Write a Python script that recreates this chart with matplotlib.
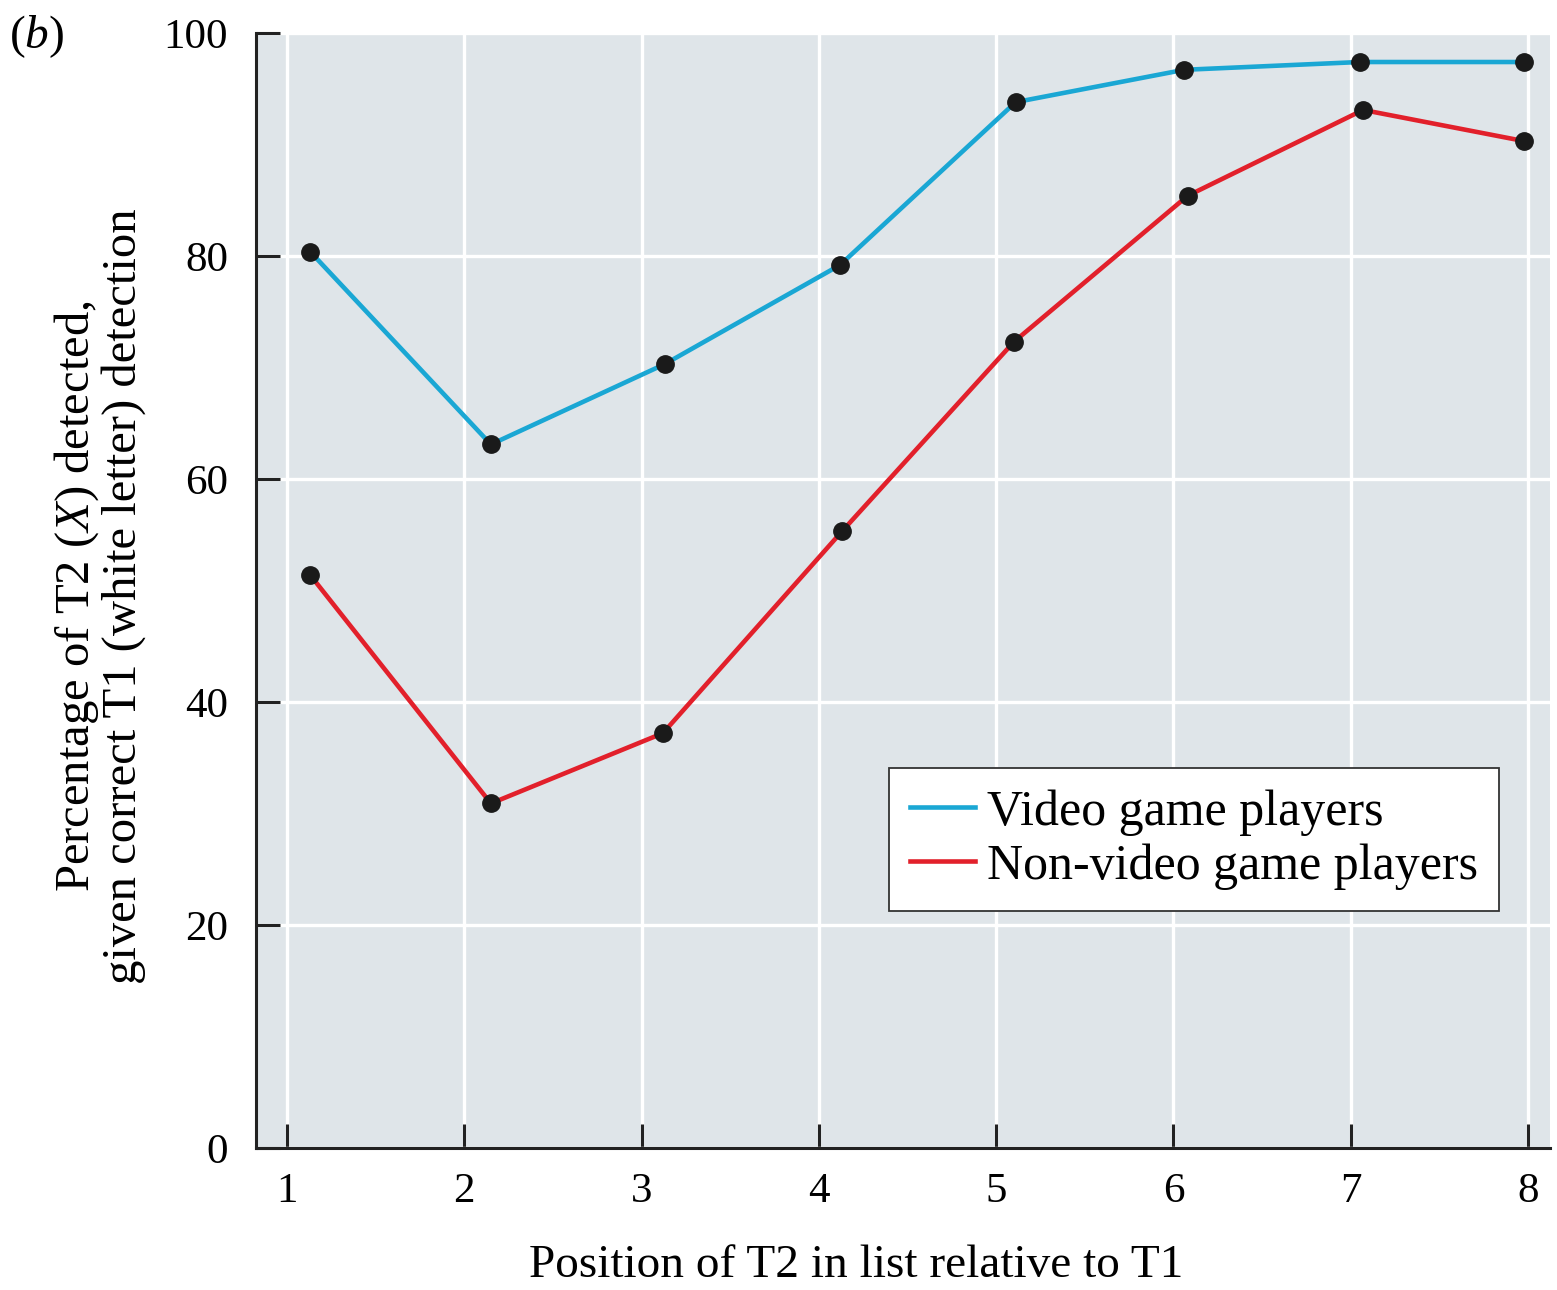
import matplotlib
matplotlib.use("Agg")
import matplotlib.pyplot as plt
from matplotlib.lines import Line2D

# Data: percentage of T2 detected at each lag after T1
positions = [1, 2, 3, 4, 5, 6, 7, 8]
video_x = [1.13, 2.15, 3.13, 4.12, 5.11, 6.06, 7.05, 7.98]
video_pct = [80.4, 63.1, 70.3, 79.2, 93.8, 96.7, 97.4, 97.4]
nonvideo_x = [1.13, 2.15, 3.12, 4.13, 5.10, 6.08, 7.07, 7.98]
nonvideo_pct = [51.4, 30.9, 37.2, 55.3, 72.3, 85.4, 93.1, 90.3]
y_ticks = [0, 20, 40, 60, 80, 100]
series_labels = ["Video game players", "Non-video game players"]

plt.rcParams["font.family"] = ["Liberation Serif", "DejaVu Serif"]
plt.rcParams["mathtext.fontset"] = "custom"
plt.rcParams["mathtext.rm"] = "Liberation Serif"
plt.rcParams["mathtext.it"] = "Liberation Serif:italic"

BLUE = "#1aa7d4"
RED = "#e2202b"
BG = "#dfe5e9"

fig = plt.figure(figsize=(15.57, 12.90), dpi=100)
ax = fig.add_axes([0.1642, 0.1101, 0.8313, 0.8643])
ax.set_facecolor(BG)

ax.set_xlim(0.823, 8.124)
ax.set_ylim(0, 100)
ax.set_xticks(positions)
ax.set_yticks(y_ticks)

ax.grid(True, color="white", linewidth=2.4, zorder=0)
ax.set_axisbelow(True)

for s in ["top", "right"]:
    ax.spines[s].set_visible(False)
for s in ["left", "bottom"]:
    ax.spines[s].set_linewidth(2.2)
    ax.spines[s].set_color("#222222")

ax.tick_params(axis="both", direction="in", length=17, width=2.2,
               color="#222222", labelsize=31, pad=18)
ax.tick_params(axis="y", pad=20)

ax.plot(video_x, video_pct, color=BLUE, linewidth=3.3, zorder=3)
ax.plot(nonvideo_x, nonvideo_pct, color=RED, linewidth=3.3, zorder=3)
ax.plot(video_x, video_pct, "o", color="#1a1a1a", markersize=12.5, zorder=4)
ax.plot(nonvideo_x, nonvideo_pct, "o", color="#1a1a1a", markersize=12.5, zorder=4)

xl = ax.set_xlabel("Position of T2 in list relative to T1", fontsize=34)
ax.xaxis.set_label_coords(0.464, -0.106)
xl.set_va("center")

yl = ax.set_ylabel("Percentage of T2 ($\\it{X}$) detected,\ngiven correct T1 (white letter) detection",
                   fontsize=35, linespacing=1.02)
ax.yaxis.set_label_coords(-0.121, 0.495)
yl.set_va("center")

handles = [Line2D([], [], color=BLUE, linewidth=3.3),
           Line2D([], [], color=RED, linewidth=3.3)]
leg = ax.legend(handles, series_labels, loc="upper left",
                bbox_to_anchor=(0.489, 0.3405), fontsize=36,
                frameon=True, fancybox=False, framealpha=1,
                edgecolor="#333333", handlelength=1.3, handletextpad=0.25,
                borderpad=0.42, labelspacing=0.15, borderaxespad=0)
leg.get_frame().set_linewidth(1.3)

fig.text(0.006, 0.972, "($\\it{b}$)", fontsize=34, va="center", ha="left")

fig.savefig("out.png", dpi=100, facecolor="white")
